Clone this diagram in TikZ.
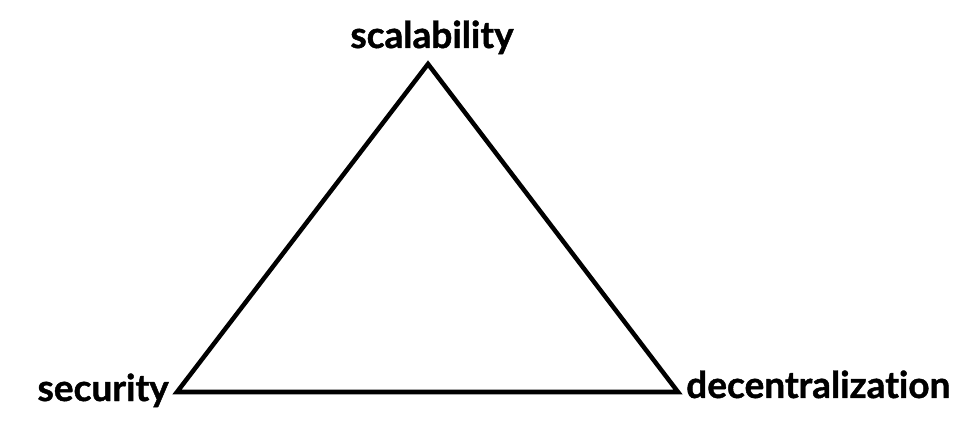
\documentclass[tikz,border=0pt]{standalone}
\usepackage{fontspec}
\setmainfont{Lato}[Ligatures={NoCommon}, BoldFeatures={FakeBold=1.2}]
\usetikzlibrary{positioning}
\tikzset{
	defaultstyle/.style={
		x=1pt, y=1pt,
		line join=miter,
		line width=4.5pt},
	vertexlabel/.style={
		font=\fontsize{37}{40}\selectfont\bfseries,
		inner sep=0pt}}

\begin{document}
\begin{tikzpicture}[defaultstyle]
	\useasboundingbox (0, 0) rectangle (967, 426);

	\coordinate (scal) at (428, 362);
	\coordinate (sec) at (177, 34);
	\coordinate (dec) at (678, 34);

	\draw (scal) -- (sec) -- (dec) -- cycle;

	\node[vertexlabel, anchor=base] (lscal) at (432, 378) {scalability};
	\node[vertexlabel, anchor=base east] (lsec) at (171, 25) {security};
	\node[vertexlabel, anchor=base west] (ldec) at (684, 28) {decentralization};

\end{tikzpicture}
\end{document}
